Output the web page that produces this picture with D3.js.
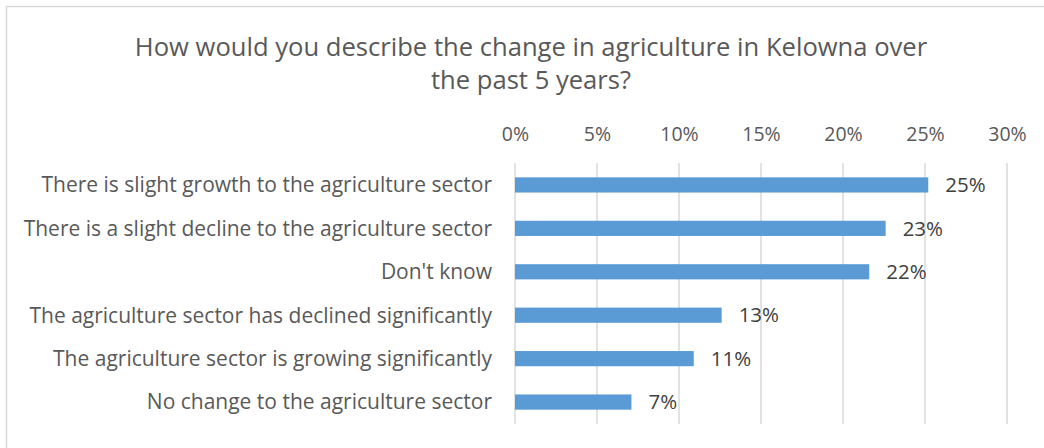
<!DOCTYPE html>
<html>
<head>
<meta charset="utf-8">
<script src="https://cdn.jsdelivr.net/npm/d3@7"></script>
<style>
  body { margin: 0; background: #fff; }
  svg { display: block; font-family: "Open Sans", sans-serif; }
</style>
</head>
<body>
<svg></svg>
<script>
// data
var categories = [
  "There is slight growth to the agriculture sector",
  "There is a slight decline to the agriculture sector",
  "Don't know",
  "The agriculture sector has declined significantly",
  "The agriculture sector is growing significantly",
  "No change to the agriculture sector"
];
var values = [0.252, 0.226, 0.216, 0.126, 0.109, 0.071];
var labels = ["25%", "23%", "22%", "13%", "11%", "7%"];
var ticks = [0, 0.05, 0.10, 0.15, 0.20, 0.25, 0.30];
var titleLines = ["How would you describe the change in agriculture in Kelowna over", "the past 5 years?"];

var W = 1044, H = 448;
var plotL = 515, plotR = 1007, plotT = 163, plotB = 424;

var svg = d3.select('svg').attr('width', W).attr('height', H);

// chart border
svg.append('rect')
  .attr('x', 6.5).attr('y', 6.5)
  .attr('width', W + 20).attr('height', H + 20)
  .attr('fill', 'none').attr('stroke', '#d9d9d9').attr('stroke-width', 1.5);

svg.selectAll('.title').data(titleLines).enter().append('text')
  .attr('class', 'title')
  .attr('x', 531)
  .attr('y', function(d, i) { return 56 + i * 33; })
  .attr('text-anchor', 'middle')
  .attr('font-size', 25.6)
  .attr('fill', '#595959')
  .text(function(d) { return d; });

var x = d3.scaleLinear().domain([0, 0.30]).range([plotL, plotR]);
var y = d3.scaleBand().domain(categories).range([plotT, plotB]).paddingInner(0.65).paddingOuter(0.33);

// gridlines
svg.selectAll('.grid').data(ticks).enter().append('line')
  .attr('x1', function(d) { return x(d); })
  .attr('x2', function(d) { return x(d); })
  .attr('y1', plotT).attr('y2', plotB)
  .attr('stroke', '#d9d9d9').attr('stroke-width', 1.5);

// top axis
var axis = svg.append('g')
  .attr('transform', 'translate(0,' + (plotT - 22) + ')')
  .call(d3.axisTop(x).tickValues(ticks).tickFormat(d3.format('.0%')).tickSize(0).tickPadding(0));
axis.select('.domain').remove();
axis.selectAll('text')
  .attr('font-family', '"Open Sans", sans-serif')
  .attr('font-size', 19.5)
  .attr('fill', '#595959');

// category labels
svg.selectAll('.cat').data(categories).enter().append('text')
  .attr('x', 492)
  .attr('y', function(d) { return y(d) + y.bandwidth() / 2; })
  .attr('dy', '0.35em')
  .attr('text-anchor', 'end')
  .attr('font-size', 21)
  .attr('fill', '#595959')
  .text(function(d) { return d; });

// bars
svg.selectAll('.bar').data(values).enter().append('rect')
  .attr('x', x(0))
  .attr('y', function(d, i) { return y(categories[i]); })
  .attr('width', function(d) { return x(d) - x(0); })
  .attr('height', y.bandwidth())
  .attr('fill', '#5b9bd5');

// value labels
svg.selectAll('.val').data(values).enter().append('text')
  .attr('x', function(d) { return x(d) + 17; })
  .attr('y', function(d, i) { return y(categories[i]) + y.bandwidth() / 2; })
  .attr('dy', '0.35em')
  .attr('font-size', 20.5)
  .attr('fill', '#404040')
  .text(function(d, i) { return labels[i]; });
</script>
</body>
</html>
